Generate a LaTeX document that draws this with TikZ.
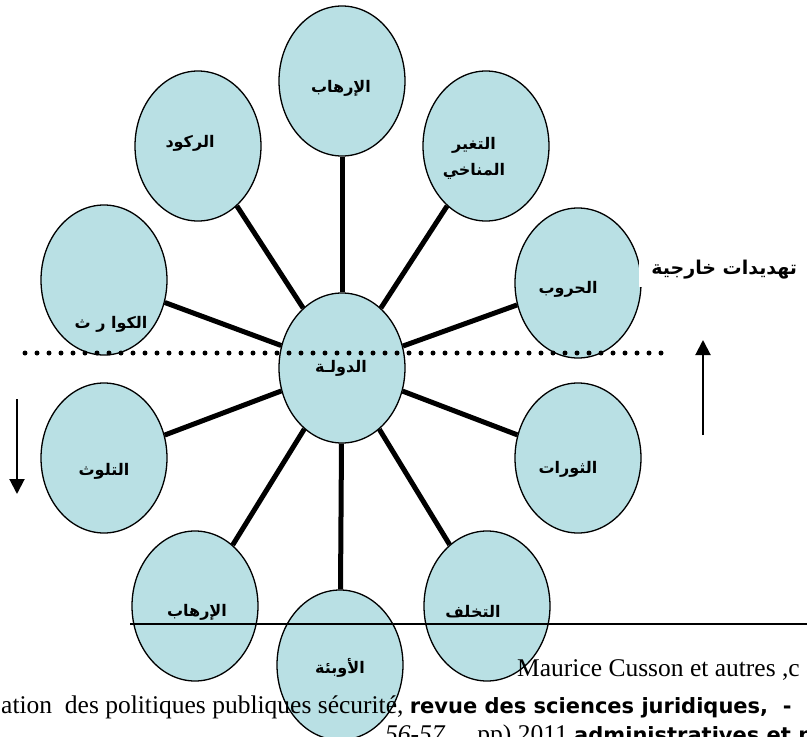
\documentclass[tikz,border=0pt]{standalone}
\usepackage{fontspec}
\setmainfont{Liberation Serif}
\newfontfamily\arabicfont[Script=Arabic]{DejaVu Sans}
\newfontfamily\boldsans{DejaVu Sans}
\TeXXeTstate=1
\usetikzlibrary{shapes.geometric,arrows.meta}
\definecolor{bubblefill}{RGB}{185,224,228}
\newcommand{\artxt}[1]{{\arabicfont\bfseries\beginR #1\endR}}

\begin{document}
\begin{tikzpicture}[x=1pt,y=-1pt,
  bubble/.style={ellipse, draw=black, line width=1.3pt, fill=bubblefill,
    minimum width=126pt, minimum height=150pt, inner sep=0pt},
  bubbletext/.style={font=\fontsize{16}{26}\selectfont, inner sep=0pt, align=center},
  spoke/.style={line width=5pt},
  dotline/.style={line width=5pt, line cap=round, dash pattern=on 0pt off 12pt},
  dirarrow/.style={line width=2pt, -{Triangle[length=15pt,width=15pt]}},
  citeline/.style={font=\fontsize{25.5}{30}\selectfont, inner sep=0pt, anchor=base west},
  boldpart/.style={},
  ]
\useasboundingbox (0,0) rectangle (807,737);
\clip (0,0) rectangle (807,737);

% bubbles around the state
\node[bubble] (c)   at (342,368) {};
\node[bubble] (top) at (342,81)  {};
\node[bubble] (rk)  at (198,146) {};
\node[bubble] (tg)  at (486,146) {};
\node[bubble] (kw)  at (104,280) {};
\node[bubble] (hr)  at (578,283) {};
\node[bubble] (tl)  at (104,458) {};
\node[bubble] (th)  at (578,458) {};
\node[bubble] (ir)  at (195,606) {};
\node[bubble] (tk)  at (487,606) {};
\node[bubble] (aw)  at (340,665) {};

% spokes from the centre
\foreach \n in {top,rk,tg,kw,hr,tl,th,ir,tk,aw}
  \draw[spoke] (c) -- (\n);

% labels
\node[bubbletext] (lc)   at (341,368) {\artxt{الدولـة}};
\node[bubbletext] (ltop) at (341,88)  {\artxt{الإرهاب}};
\node[bubbletext] (lrk)  at (190,143) {\artxt{الركود}};
\node[bubbletext] (ltg)  at (474,158) {\artxt{التغير}\\\artxt{المناخي}};
\node[bubbletext] (lkw)  at (111,324) {\artxt{الكوا ر ث}};
\node[bubbletext] (lhr)  at (568,289) {\artxt{الحروب}};
\node[bubbletext] (ltl)  at (104,471) {\artxt{التلوث}};
\node[bubbletext] (lth)  at (568,469) {\artxt{الثورات}};
\node[bubbletext] (lir)  at (197,612) {\artxt{الإرهاب}};
\node[bubbletext] (ltk)  at (473,612) {\artxt{التخلف}};
\node[bubbletext] (law)  at (340,668) {\artxt{الأوبئة}};

% external threats caption
\node[fill=white, anchor=south west, minimum width=170pt, minimum height=34pt,
      inner sep=0pt, font=\fontsize{19}{21}\selectfont] (ext) at (639,287)
      {\artxt{تهديدات خارجية}};

% internal/external divider
\coordinate (d1) at (25,353);
\coordinate (d2) at (668,353);
\draw[dotline] (d1) -- (d2);

% direction arrows
\coordinate (ua1) at (703,435);
\coordinate (ua2) at (703,340);
\draw[dirarrow] (ua1) -- (ua2);
\coordinate (da1) at (17,399);
\coordinate (da2) at (17,494);
\draw[dirarrow] (da1) -- (da2);

% footnote rule and reference
\coordinate (r1) at (130,624);
\coordinate (r2) at (807,624);
\draw[line width=2pt] (r1) -- (r2);

\node[citeline] (f1) at (517,676) {Maurice Cusson et autres ,c};
\node[citeline] (f2) at (1,713) {ation\ \ des politiques publiques sécurité, {\boldsans\bfseries\fontsize{21}{26}\selectfont revue des sciences juridiques,\ \ -}};
\node[citeline] (f3) at (385,742) {\textit{56-57}\ \ \ \ \ pp) 2011 {\boldsans\bfseries\fontsize{21}{26}\selectfont administratives et p}};
\end{tikzpicture}
\end{document}
